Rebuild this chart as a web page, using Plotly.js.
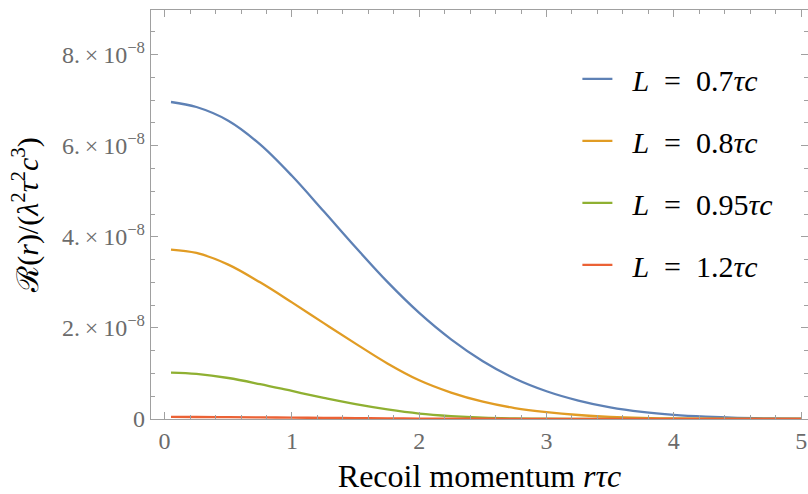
<!DOCTYPE html>
<html><head><meta charset="utf-8">
<script src="https://cdn.plot.ly/plotly-3.0.1.min.js"></script>
<style>html,body{margin:0;padding:0;background:#fff}</style>
</head><body><div id="chart" style="width:808px;height:494px"></div>
<script>
const r = [0.05, 0.25, 0.5, 0.75, 1.0, 1.25, 1.5, 1.75, 2.0, 2.25, 2.5, 2.75, 3.0, 3.25, 3.5, 3.75, 4.0, 4.25, 4.5, 4.75, 5.0];
const blue   = [6.96, 6.85, 6.55, 6.03, 5.34, 4.56, 3.77, 3.01, 2.33, 1.75, 1.27, 0.89, 0.61, 0.405, 0.255, 0.155, 0.09, 0.05, 0.025, 0.012, 0.006];
const orange = [3.72, 3.645, 3.39, 3.0, 2.56, 2.105, 1.655, 1.22, 0.85, 0.58, 0.38, 0.24, 0.15, 0.088, 0.048, 0.024, 0.011, 0.005, 0.002, 0.001, 0.0];
const green  = [1.02, 0.99, 0.90, 0.765, 0.615, 0.465, 0.325, 0.21, 0.12, 0.065, 0.03, 0.013, 0.005, 0.002, 0.001, 0.0, 0.0, 0.0, 0.0, 0.0, 0.0];
const red    = [0.045, 0.044, 0.04, 0.035, 0.03, 0.025, 0.02, 0.015, 0.01, 0.007, 0.005, 0.003, 0.002, 0.001, 0.0, 0.0, 0.0, 0.0, 0.0, 0.0, 0.0];
const seriesNames = ['\u2002<i>L</i>\u2002=\u20020.7<i>τc</i>', '\u2002<i>L</i>\u2002=\u20020.8<i>τc</i>', '\u2002<i>L</i>\u2002=\u20020.95<i>τc</i>', '\u2002<i>L</i>\u2002=\u20021.2<i>τc</i>'];
const seriesColors = ['#5E81B5', '#E19C24', '#8FB032', '#EB6235'];
const yTickVals = [0, 2, 4, 6, 8];
const yTickText = ['0', '2.\u2009×\u200910<sup>−8</sup>', '4.\u2009×\u200910<sup>−8</sup>', '6.\u2009×\u200910<sup>−8</sup>', '8.\u2009×\u200910<sup>−8</sup>'];
const xTickVals = [0, 1, 2, 3, 4, 5];
const scale = 1e-8;

const allY = [blue, orange, green, red];
const traces = allY.map((ys, i) => ({
  x: r, y: ys.map(v => v * scale), type: 'scatter', mode: 'lines',
  name: seriesNames[i], legendgroup: 'g' + i,
  line: {color: seriesColors[i], width: 2.3, shape: 'spline', smoothing: 1}
}));

const serif = 'Liberation Serif, DejaVu Serif, serif';
const frameColor = '#a0a0a0';
const tickFont = {family: serif, size: 24, color: '#6b6b6b'};
const layout = {
  width: 808, height: 494,
  margin: {l: 151, r: 0, t: 10, b: 75},
  paper_bgcolor: '#fff', plot_bgcolor: '#fff',
  showlegend: true,
  legend: {x: 0.649, y: 0.895, xanchor: 'left', yanchor: 'top',
    font: {family: serif, size: 30, color: '#000'},
    tracegroupgap: 20, bgcolor: 'rgba(0,0,0,0)'},
  xaxis: {
    range: [-0.107, 5.054], showgrid: false, zeroline: false,
    showline: true, linecolor: frameColor, linewidth: 1.2, mirror: 'ticks',
    ticks: 'inside', ticklen: 7, tickcolor: frameColor, tickwidth: 1,
    tickvals: xTickVals, tickfont: tickFont,
    minor: {dtick: 0.2, ticklen: 4, tickcolor: frameColor, ticks: 'inside'},
    title: {text: 'Recoil momentum <i>rτc</i>', font: {family: serif, size: 32, color: '#000'}, standoff: 16}
  },
  yaxis: {
    range: [0, 8.98e-8], showgrid: false, zeroline: false,
    showline: true, linecolor: frameColor, linewidth: 1.2, mirror: 'ticks',
    ticks: 'inside', ticklen: 7, tickcolor: frameColor, tickwidth: 1,
    tickvals: yTickVals.map(v => v * scale), ticktext: yTickText, tickfont: tickFont,
    minor: {dtick: 0.5e-8, tick0: 0, ticklen: 4, tickcolor: frameColor, ticks: 'inside'},
    title: {text: 'ℛ(<i>r</i>)/(<i>λ</i><sup>2</sup><i>τ</i><sup>2</sup><i>c</i><sup>3</sup>)', font: {family: serif, size: 30, color: '#000'}, standoff: 14}
  }
};
Plotly.newPlot('chart', traces, layout, {displayModeBar: false, staticPlot: true});
</script></body></html>
